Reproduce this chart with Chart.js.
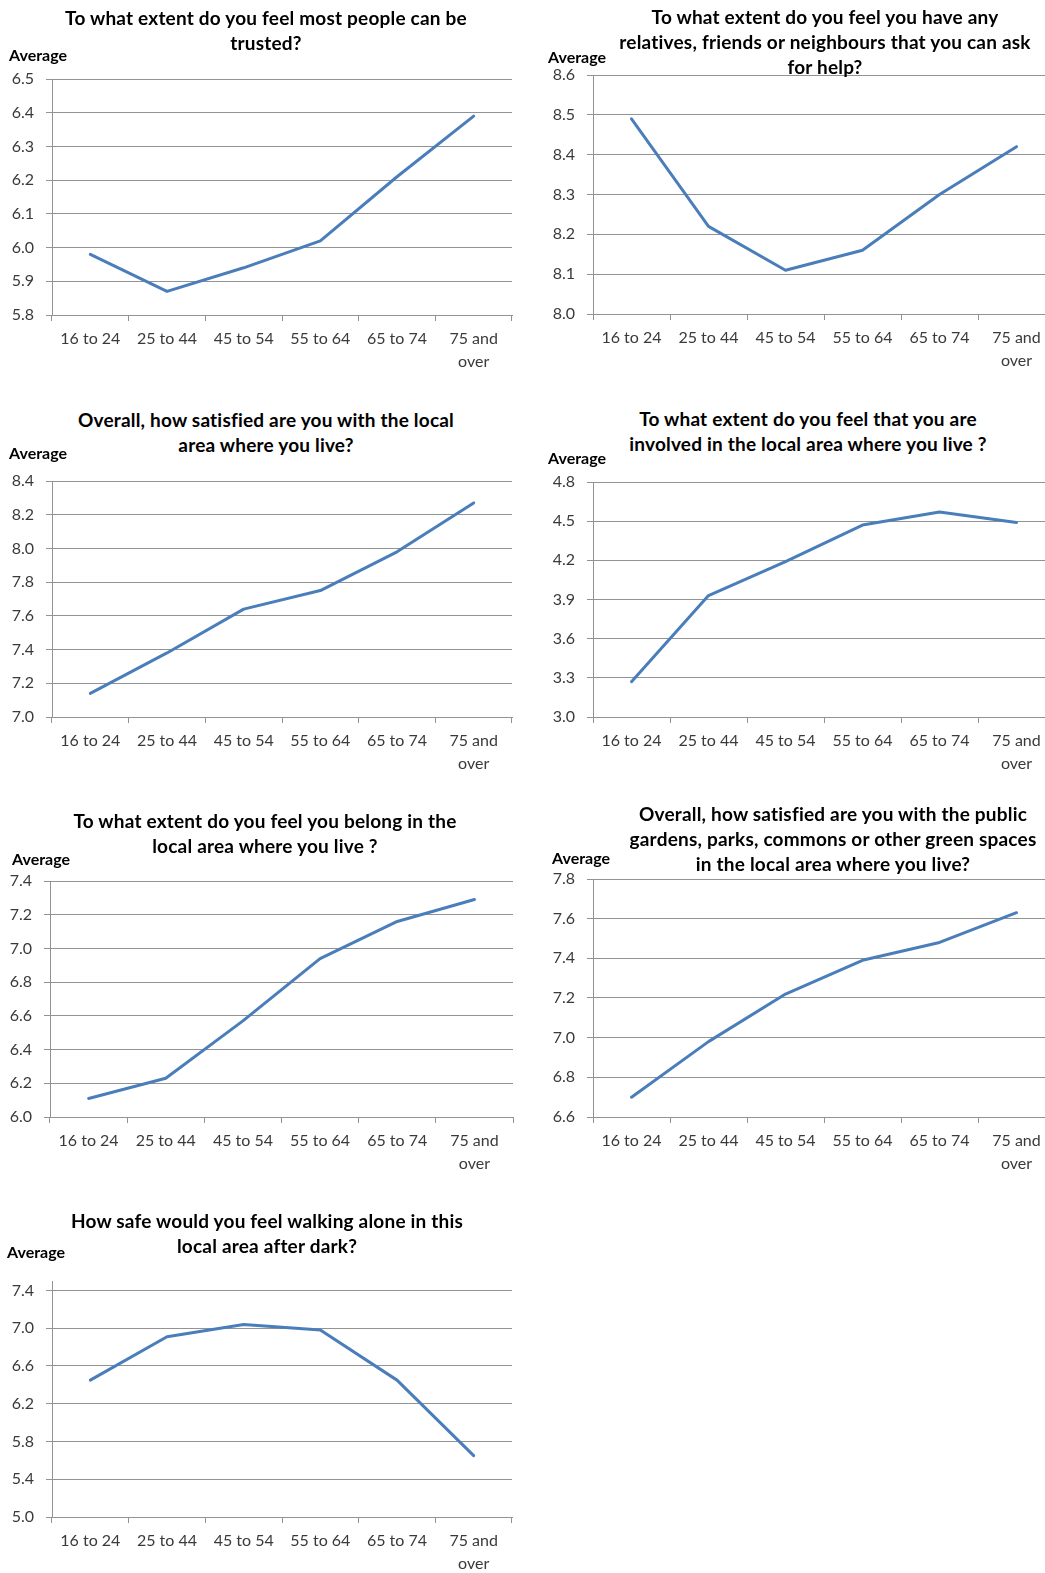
<!DOCTYPE html>
<html>
<head>
<meta charset="utf-8">
<script src="https://cdn.jsdelivr.net/npm/chart.js@4.4.1/dist/chart.umd.min.js"></script>
<style>
  html, body { margin: 0; padding: 0; background: #ffffff; overflow: hidden; }
  body { width: 1045px; height: 1573px; position: relative; font-family: Lato, "Open Sans", sans-serif; }
  .panel-canvas { position: absolute; }
  .title { position: absolute; width: 640px; text-align: center; font-weight: bold; font-size: 19px; letter-spacing: 0.2px; line-height: 25px; color: #000; z-index: 2; white-space: nowrap; }
  .unit { position: absolute; font-weight: bold; font-size: 16px; line-height: 18px; color: #000; z-index: 2; white-space: nowrap; }
</style>
</head>
<body>
<script>
// Age bands shared by every panel
const ageGroups = ['16 to 24', '25 to 44', '45 to 54', '55 to 64', '65 to 74', ['75 and', 'over']];

// Average scores by age band
const trustedValues    = [5.98, 5.87, 5.94, 6.02, 6.21, 6.39];
const helpValues       = [8.49, 8.22, 8.11, 8.16, 8.30, 8.42];
const satisfiedValues  = [7.14, 7.38, 7.64, 7.75, 7.98, 8.27];
const involvedValues   = [3.27, 3.93, 4.19, 4.47, 4.57, 4.49];
const belongValues     = [6.11, 6.23, 6.57, 6.94, 7.16, 7.29];
const greenSpaceValues = [6.70, 6.98, 7.22, 7.39, 7.48, 7.63];
const safeValues       = [6.45, 6.91, 7.04, 6.98, 6.45, 5.65];

// Value-axis tick labels for each panel
const trustedTicks    = [5.8, 5.9, 6.0, 6.1, 6.2, 6.3, 6.4, 6.5];
const helpTicks       = [8.0, 8.1, 8.2, 8.3, 8.4, 8.5, 8.6];
const satisfiedTicks  = [7.0, 7.2, 7.4, 7.6, 7.8, 8.0, 8.2, 8.4];
const involvedTicks   = [3.0, 3.3, 3.6, 3.9, 4.2, 4.5, 4.8];
const belongTicks     = [6.0, 6.2, 6.4, 6.6, 6.8, 7.0, 7.2, 7.4];
const greenSpaceTicks = [6.6, 6.8, 7.0, 7.2, 7.4, 7.6, 7.8];
const safeTicks       = [5.0, 5.4, 5.8, 6.2, 6.6, 7.0, 7.4];
const safeAxisMax     = 7.5;

// Question wording, one entry per printed line
const trustedTitle    = ['To what extent do you feel most people can be', 'trusted?'];
const helpTitle       = ['To what extent do you feel you have any', 'relatives, friends or neighbours that you can ask', 'for help?'];
const satisfiedTitle  = ['Overall, how satisfied are you with the local', 'area where you live?'];
const involvedTitle   = ['To what extent do you feel that you are', 'involved in the local area where you live ?'];
const belongTitle     = ['To what extent do you feel you belong in the', 'local area where you live ?'];
const greenSpaceTitle = ['Overall, how satisfied are you with the public', 'gardens, parks, commons or other green spaces', 'in the local area where you live?'];
const safeTitle       = ['How safe would you feel walking alone in this', 'local area after dark?'];

const axisUnit = 'Average';

// Page layout: plot box edges, title centre, unit label spot
const panels = [
  { values: trustedValues,    ticks: trustedTicks,    title: trustedTitle,    plot: { l: 52,  r: 512,  t: 79,   b: 315 },  titleX: 266, titleY: 5,    unit: [9, 46] },
  { values: helpValues,       ticks: helpTicks,       title: helpTitle,       plot: { l: 593, r: 1055, t: 75,   b: 314 },  titleX: 825, titleY: 4,    unit: [548, 48] },
  { values: satisfiedValues,  ticks: satisfiedTicks,  title: satisfiedTitle,  plot: { l: 52,  r: 512,  t: 481,  b: 717 },  titleX: 266, titleY: 407,  unit: [9, 444] },
  { values: involvedValues,   ticks: involvedTicks,   title: involvedTitle,   plot: { l: 593, r: 1055, t: 482,  b: 717 },  titleX: 808, titleY: 406,  unit: [548, 449] },
  { values: belongValues,     ticks: belongTicks,     title: belongTitle,     plot: { l: 50,  r: 513,  t: 881,  b: 1117 }, titleX: 265, titleY: 808,  unit: [12, 850] },
  { values: greenSpaceValues, ticks: greenSpaceTicks, title: greenSpaceTitle, plot: { l: 593, r: 1055, t: 879,  b: 1117 }, titleX: 833, titleY: 801,  unit: [552, 849] },
  { values: safeValues,       ticks: safeTicks,       title: safeTitle,       plot: { l: 52,  r: 512,  t: 1281, b: 1517 }, titleX: 267, titleY: 1208, unit: [7, 1243], max: safeAxisMax }
];

const AXIS_W = 52, PAD_T = 24, PAD_R = 2, XAXIS_H = 60;
const lineBlue = '#4a7ebb';
const gridGrey = '#939393';
const labelGrey = '#3a3a3a';

panels.forEach(p => {
  // question heading
  const t = document.createElement('div');
  t.className = 'title';
  t.style.left = (p.titleX - 320) + 'px';
  t.style.top = p.titleY + 'px';
  t.innerHTML = p.title.join('<br>');
  document.body.appendChild(t);

  // axis unit
  const u = document.createElement('div');
  u.className = 'unit';
  u.style.left = p.unit[0] + 'px';
  u.style.top = p.unit[1] + 'px';
  u.textContent = axisUnit;
  document.body.appendChild(u);

  // chart canvas
  const left = p.plot.l - AXIS_W;
  const top = p.plot.t - PAD_T;
  const w = p.plot.r + PAD_R - left;
  const h = p.plot.b + XAXIS_H - top;
  const c = document.createElement('canvas');
  c.className = 'panel-canvas';
  c.width = w; c.height = h;
  c.style.left = left + 'px';
  c.style.top = top + 'px';
  c.style.width = w + 'px';
  c.style.height = h + 'px';
  document.body.appendChild(c);

  const tickVals = p.ticks;
  new Chart(c.getContext('2d'), {
    type: 'line',
    data: {
      labels: ageGroups,
      datasets: [{
        data: p.values,
        borderColor: lineBlue,
        borderWidth: 3,
        pointRadius: 0,
        pointHoverRadius: 0,
        tension: 0,
        fill: false,
        borderCapStyle: 'round',
        borderJoinStyle: 'round'
      }]
    },
    options: {
      responsive: false,
      animation: false,
      devicePixelRatio: 1,
      layout: { padding: { left: 0, top: PAD_T, right: PAD_R, bottom: 0 } },
      plugins: { legend: { display: false }, tooltip: { enabled: false }, title: { display: false } },
      events: [],
      scales: {
        x: {
          type: 'category',
          offset: true,
          grid: { drawOnChartArea: false, drawTicks: true, tickLength: 6, offset: true, color: gridGrey, lineWidth: 1 },
          border: { display: true, color: gridGrey, width: 1 },
          ticks: {
            autoSkip: false, maxRotation: 0, minRotation: 0, padding: 7,
            color: labelGrey,
            font: { family: 'Lato', size: 16, lineHeight: 1.4 }
          },
          afterFit: s => { s.height = XAXIS_H; }
        },
        y: {
          type: 'linear',
          min: tickVals[0],
          max: p.max !== undefined ? p.max : tickVals[tickVals.length - 1],
          grid: { drawOnChartArea: true, drawTicks: true, tickLength: 6, color: gridGrey, lineWidth: 1 },
          border: { display: true, color: gridGrey, width: 1 },
          ticks: {
            padding: 12,
            color: labelGrey,
            font: { family: 'Lato', size: 16, lineHeight: 1.2 },
            callback: v => Number(v).toFixed(1)
          },
          afterBuildTicks: s => { s.ticks = tickVals.map(v => ({ value: v })); },
          afterFit: s => { s.width = AXIS_W; }
        }
      }
    }
  });
});
</script>
</body>
</html>
